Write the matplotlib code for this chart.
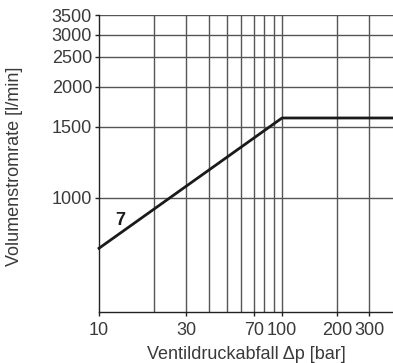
import numpy as np
import matplotlib
matplotlib.use("Agg")
import matplotlib.pyplot as plt

# curve 7
dp = [10, 100, 400]
flow = [750, 1600, 1600]

y_ticks = [1000, 1500, 2000, 2500, 3000, 3500]
x_ticks = [10, 30, 70, 100, 200, 300]
x_grid = [20, 30, 40, 50, 60, 70, 80, 90, 100, 200, 300]

# the y axis of the original is not a clean log scale: piecewise log mapping
knot_vals = np.log10([100, 1000, 1500, 2000, 2500, 3000, 3500, 10000])
knot_pos = np.array([-289, 114, 185, 225, 255, 277, 297, 434], dtype=float)

def fwd(v):
    v = np.clip(np.asarray(v, dtype=float), 1e-9, None)
    return np.interp(np.log10(v), knot_vals, knot_pos)

def inv(p):
    return 10 ** np.interp(np.asarray(p, dtype=float), knot_pos, knot_vals)

fs = 13
txt = '#3a3a3a'
plt.rcParams['font.family'] = ['Liberation Sans', 'DejaVu Sans']
fig = plt.figure(figsize=(3.93, 3.63), dpi=100)
ax = fig.add_axes([99 / 393, 51 / 363, 1 - 99 / 393, 297 / 363])

ax.set_xscale('log')
ax.set_yscale('function', functions=(fwd, inv))
ax.set_xlim(10, 404)
ax.set_ylim(521, 3500)

for v in y_ticks:
    ax.axhline(v, color='#555555', lw=1.0, zorder=1)
for v in x_grid:
    ax.axvline(v, color='#555555', lw=1.0, zorder=1)

ax.plot(dp, flow, color='#1a1a1a', lw=2, zorder=3, clip_on=False)
ax.text(13, 880, '7', fontsize=fs, fontweight='bold', ha='center', va='center', color='#1a1a1a')

ax.set_xticks(x_ticks)
ax.set_xticklabels([str(t) for t in x_ticks])
ax.xaxis.set_minor_locator(matplotlib.ticker.NullLocator())
ax.set_yticks(y_ticks)
ax.set_yticklabels([str(t) for t in y_ticks])
ax.yaxis.set_minor_locator(matplotlib.ticker.NullLocator())
ax.tick_params(axis='both', labelsize=fs, length=3, width=1, color='#222222', labelcolor=txt)
ax.tick_params(axis='x', pad=4)
ax.tick_params(axis='y', pad=2)

for s in ['top', 'right']:
    ax.spines[s].set_visible(False)
for s in ['left', 'bottom']:
    ax.spines[s].set_color('#222222')
    ax.spines[s].set_linewidth(1.0)

ax.set_xlabel('Ventildruckabfall Δp [bar]', fontsize=fs, color=txt, labelpad=5)
fig.text(15 / 393, 1 - 166 / 363, 'Volumenstromrate [l/min]', fontsize=fs, color=txt,
         rotation=90, ha='center', va='center')

fig.savefig('out.png', dpi=100)
